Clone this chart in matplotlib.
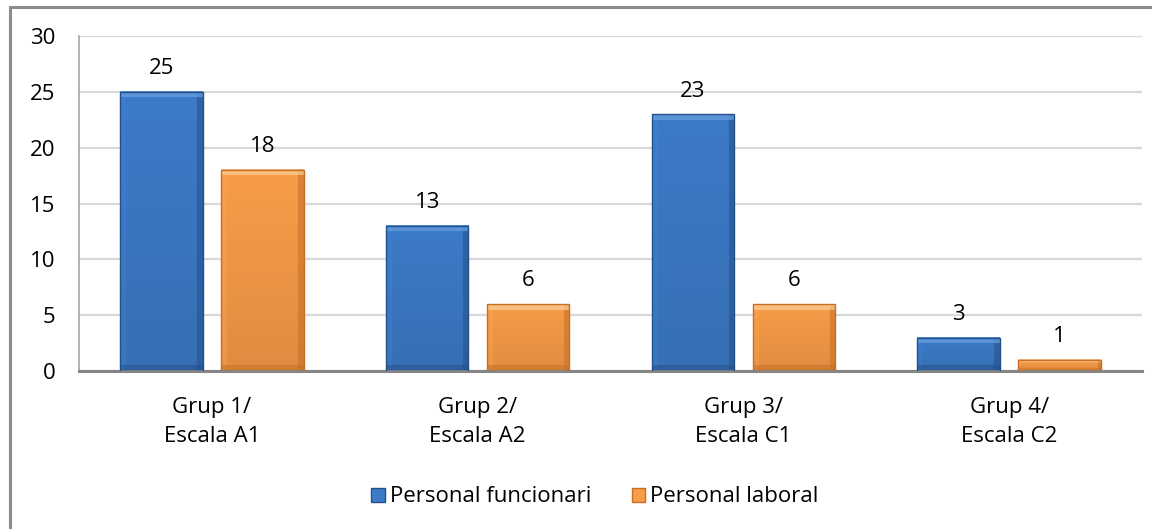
import numpy as np
import matplotlib
matplotlib.use("Agg")
import matplotlib.pyplot as plt
from matplotlib.colors import to_rgb
from matplotlib.patches import Rectangle

categories = ["Grup 1/\nEscala A1", "Grup 2/\nEscala A2", "Grup 3/\nEscala C1", "Grup 4/\nEscala C2"]
funcionari = [25, 13, 23, 3]
laboral = [18, 6, 6, 1]
series_names = ["Personal funcionari", "Personal laboral"]
y_ticks = [0, 5, 10, 15, 20, 25, 30]

plt.rcParams["font.family"] = ["Open Sans", "DejaVu Sans"]
FS = 16

W, H, DPI = 1152, 529, 100
fig = plt.figure(figsize=(W / DPI, H / DPI), dpi=DPI)
ax = fig.add_axes([79 / W, 1 - 371 / H, (1142 - 79) / W, (371 - 36) / H])

# outer chart frame (runs off the right and bottom edges)
fig.patches.append(Rectangle((10 / W, -0.05), 1.2, 1 - 7 / H + 0.05,
                             transform=fig.transFigure, fill=False,
                             edgecolor="#8c8c8c", linewidth=2.2, zorder=0))

x = np.arange(len(categories))
bw = 0.31
off = 0.19

ax.set_xlim(-0.5, len(categories) - 0.5)
ax.set_ylim(0, 30)
ax.set_yticks(y_ticks)
ax.yaxis.grid(True, color="#d9d9d9", linewidth=1.6)
ax.set_axisbelow(True)
for s in ["top", "right"]:
    ax.spines[s].set_visible(False)
ax.spines["left"].set_color("#a6a6a6")
ax.spines["left"].set_linewidth(1.2)
ax.spines["bottom"].set_color("#868686")
ax.spines["bottom"].set_linewidth(2.2)
ax.tick_params(axis="both", length=0, labelsize=FS)
ax.tick_params(axis="y", pad=17)
ax.tick_params(axis="x", pad=19)
ax.set_xticks(x)
ax.set_xticklabels(categories, linespacing=1.5)

fig.canvas.draw()


def bevel_image(x0, x1, y0, y1, base, dark, light):
    """RGB image for a bar with a soft bevelled edge."""
    p0 = ax.transData.transform((x0, y0))
    p1 = ax.transData.transform((x1, y1))
    w = max(int(round(p1[0] - p0[0])), 2)
    h = max(int(round(p1[1] - p0[1])), 2)
    base, dark, light = map(np.array, (to_rgb(base), to_rgb(dark), to_rgb(light)))
    xs = np.arange(w)[None, :].repeat(h, 0)
    ys = np.arange(h)[:, None].repeat(w, 1)  # 0 = top row
    img = np.empty((h, w, 3))
    # gentle vertical shading of the face
    t = (ys / max(h - 1, 1))[..., None]
    img[:] = base * (1 - 0.10 * t)
    bev = min(6, max(2, h // 3))
    top = ys < bev
    left = xs < bev
    right = xs >= w - bev
    bottom = ys >= h - bev
    img[left] = 0.6 * img[left] + 0.4 * np.array(base * 1.05).clip(0, 1)
    img[right] = 0.45 * img[right] + 0.55 * dark
    img[bottom] = 0.45 * img[bottom] + 0.55 * dark
    img[top] = 0.35 * img[top] + 0.65 * light
    return img.clip(0, 1)


styles = [
    ("#3c7bc8", "#24508a", "#6ea3e4"),
    ("#f89c48", "#c56f26", "#fdd39a"),
]

for si, (vals, sign) in enumerate([(funcionari, -1), (laboral, 1)]):
    base, dark, light = styles[si]
    for xi, v in zip(x, vals):
        cx = xi + sign * off
        x0, x1 = cx - bw / 2, cx + bw / 2
        img = bevel_image(x0, x1, 0, v, base, dark, light)
        ax.imshow(img, extent=(x0, x1, 0, v), aspect="auto",
                  interpolation="bilinear", zorder=2)
        ax.add_patch(Rectangle((x0, 0), bw, v, fill=False,
                               edgecolor=dark, linewidth=1.0, zorder=3))
        ax.annotate(str(v), (cx, v), xytext=(0, 9), textcoords="offset points",
                    ha="center", va="bottom", fontsize=FS, color="black")

ax.set_xlim(-0.5, len(categories) - 0.5)
ax.set_ylim(0, 30)

# legend
handles = [Rectangle((0, 0), 1, 1, facecolor=styles[i][0], edgecolor=styles[i][1])
           for i in range(2)]
fig.legend(handles, series_names, loc="center", bbox_to_anchor=(595 / W, 1 - 497 / H),
           ncol=2, frameon=False, fontsize=FS, handlelength=0.6, handleheight=0.6,
           handletextpad=0.25, columnspacing=1.8)

fig.savefig("out.png", dpi=DPI)
